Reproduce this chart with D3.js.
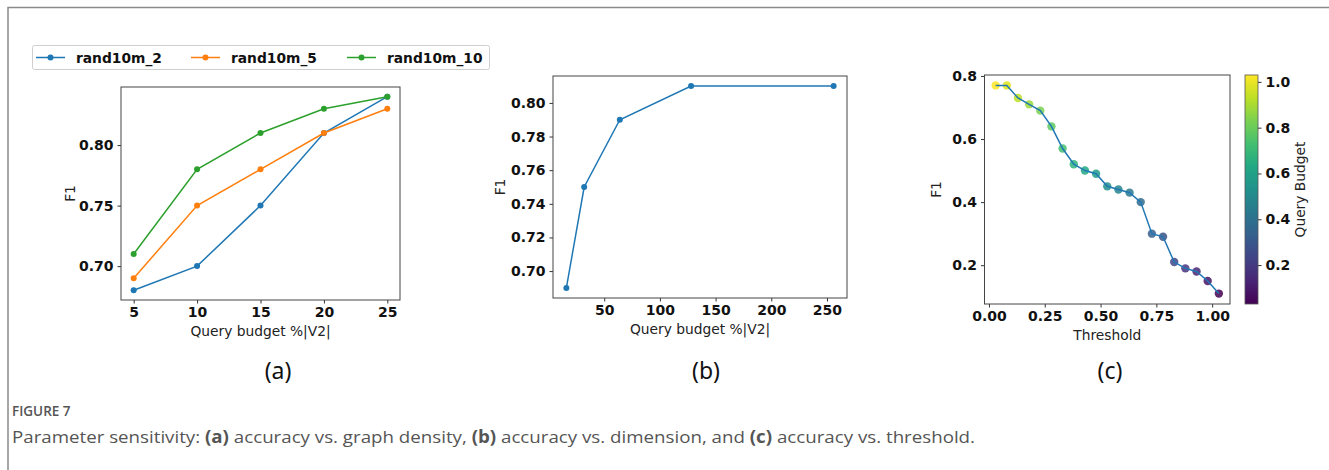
<!DOCTYPE html>
<html>
<head>
<meta charset="utf-8">
<script src="https://cdn.jsdelivr.net/npm/d3@7"></script>
<style>
  body { margin: 0; background: #fff; }
  svg text { font-family: "DejaVu Sans", sans-serif; }
  .tick text { font-weight: bold; font-size: 14px; fill: #111; }
  .axislabel { font-size: 13.8px; fill: #222; }
  .panellabel { font-family: "Noto Sans", sans-serif !important; font-size: 23px; fill: #111; }
  .caption { font-family: "Open Sans", sans-serif !important; fill: #555; }
</style>
</head>
<body>
<div id="chart"></div>
<script>
// panel (a): query budget vs F1 for three graphs
const budgetsA = [5, 10, 15, 20, 25];
const seriesNames = ['rand10m_2', 'rand10m_5', 'rand10m_10'];
const f1Rand2  = [0.68, 0.70, 0.75, 0.81, 0.84];
const f1Rand5  = [0.69, 0.75, 0.78, 0.81, 0.83];
const f1Rand10 = [0.71, 0.78, 0.81, 0.83, 0.84];
const seriesColors = ['#1f77b4', '#ff7f0e', '#2ca02c'];

// panel (b): dimension
const budgetsB = [16, 32, 64, 128, 256];
const f1B = [0.69, 0.75, 0.79, 0.81, 0.81];

// panel (c): threshold, coloured by query budget
const thresholds = [0.03, 0.08, 0.13, 0.18, 0.23, 0.28, 0.33, 0.38, 0.43, 0.48, 0.53,
                    0.58, 0.63, 0.68, 0.73, 0.78, 0.83, 0.88, 0.93, 0.98, 1.03];
const f1C = [0.77, 0.77, 0.73, 0.71, 0.69, 0.64, 0.57, 0.52, 0.50, 0.49, 0.45,
             0.44, 0.43, 0.40, 0.30, 0.29, 0.21, 0.19, 0.18, 0.15, 0.11];
const queryBudget = [1.03, 0.98, 0.93, 0.88, 0.83, 0.78, 0.73, 0.68, 0.63, 0.58, 0.53,
                     0.48, 0.43, 0.38, 0.33, 0.28, 0.23, 0.18, 0.13, 0.08, 0.03];

const ticksAx = [5, 10, 15, 20, 25], ticksAy = [0.70, 0.75, 0.80];
const ticksBx = [50, 100, 150, 200, 250], ticksBy = [0.70, 0.72, 0.74, 0.76, 0.78, 0.80];
const ticksCx = [0, 0.25, 0.5, 0.75, 1.0], ticksCy = [0.2, 0.4, 0.6, 0.8];
const ticksBar = [0.2, 0.4, 0.6, 0.8, 1.0];

const width = 1329, height = 470;

let svg = d3.select('#chart').append('svg')
  .attr('width', width)
  .attr('height', height);

// frame of the figure
svg.append('path')
  .attr('d', `M 8 ${height} L 8 7.5 L ${width} 7.5`)
  .attr('fill', 'none')
  .attr('stroke', '#8a8a8a')
  .attr('stroke-width', 1.5);

// matplotlib style 5% padding
function padded(vals) {
  let lo = d3.min(vals), hi = d3.max(vals), m = (hi - lo) * 0.05;
  return [lo - m, hi + m];
}

function drawAxes(box, x, y, xt, yt, xf, yf, xlabel, ylabelX) {
  let g = svg.append('g');
  g.append('g')
    .attr('transform', `translate(0,${box.bottom})`)
    .call(d3.axisBottom(x).tickValues(xt).tickFormat(xf).tickSize(3.5).tickPadding(4).tickSizeOuter(0));
  g.append('g')
    .attr('transform', `translate(${box.left},0)`)
    .call(d3.axisLeft(y).tickValues(yt).tickFormat(yf).tickSize(3.5).tickPadding(4).tickSizeOuter(0));
  g.selectAll('.domain').remove();
  g.selectAll('.tick line').attr('stroke', '#333');
  g.selectAll('.tick text').attr('font-family', null);
  g.append('rect')
    .attr('x', box.left).attr('y', box.top)
    .attr('width', box.right - box.left).attr('height', box.bottom - box.top)
    .attr('fill', 'none').attr('stroke', '#444').attr('stroke-width', 1);
  g.append('text')
    .attr('class', 'axislabel')
    .attr('text-anchor', 'middle')
    .attr('x', (box.left + box.right) / 2)
    .attr('y', box.bottom + 36)
    .text(xlabel);
  g.append('text')
    .attr('class', 'axislabel')
    .attr('text-anchor', 'middle')
    .attr('transform', `translate(${ylabelX},${(box.top + box.bottom) / 2}) rotate(-90)`)
    .text('F1');
  return g;
}

// ---- panel (a)
const boxA = {left: 121, right: 400, top: 87, bottom: 300};
let xA = d3.scaleLinear().domain(padded(budgetsA)).range([boxA.left, boxA.right]);
let yA = d3.scaleLinear().domain(padded(f1Rand2.concat(f1Rand5, f1Rand10))).range([boxA.bottom, boxA.top]);
drawAxes(boxA, xA, yA, ticksAx, ticksAy, d3.format('d'), d3.format('.2f'), 'Query budget %|V2|', 75);

let seriesA = [f1Rand2, f1Rand5, f1Rand10];
let lineA = d3.line().x((d, i) => xA(budgetsA[i])).y(d => yA(d));
seriesA.forEach((vals, k) => {
  svg.append('path')
    .datum(vals)
    .attr('d', lineA)
    .attr('fill', 'none')
    .attr('stroke', seriesColors[k])
    .attr('stroke-width', 1.5);
  svg.append('g').selectAll('circle')
    .data(vals)
    .enter().append('circle')
    .attr('cx', (d, i) => xA(budgetsA[i]))
    .attr('cy', d => yA(d))
    .attr('r', 3)
    .attr('fill', seriesColors[k]);
});

// legend
let legend = svg.append('g');
legend.append('rect')
  .attr('x', 32.5).attr('y', 45.5).attr('width', 457).attr('height', 24)
  .attr('rx', 2)
  .attr('fill', '#fff').attr('stroke', '#cfcfcf');
let legendX = [36, 191, 347];
seriesNames.forEach((name, k) => {
  legend.append('line')
    .attr('x1', legendX[k]).attr('x2', legendX[k] + 29)
    .attr('y1', 57.5).attr('y2', 57.5)
    .attr('stroke', seriesColors[k]).attr('stroke-width', 1.5);
  legend.append('circle')
    .attr('cx', legendX[k] + 14.5).attr('cy', 57.5).attr('r', 3)
    .attr('fill', seriesColors[k]);
  legend.append('text')
    .attr('x', legendX[k] + 40).attr('y', 62.5)
    .attr('font-weight', 'bold').attr('font-size', 13.8).attr('fill', '#111')
    .text(name);
});

// ---- panel (b)
const boxB = {left: 553, right: 847, top: 76, bottom: 298};
let xB = d3.scaleLinear().domain(padded(budgetsB)).range([boxB.left, boxB.right]);
let yB = d3.scaleLinear().domain(padded(f1B)).range([boxB.bottom, boxB.top]);
drawAxes(boxB, xB, yB, ticksBx, ticksBy, d3.format('d'), d3.format('.2f'), 'Query budget %|V2|', 505);

svg.append('path')
  .datum(f1B)
  .attr('d', d3.line().x((d, i) => xB(budgetsB[i])).y(d => yB(d)))
  .attr('fill', 'none')
  .attr('stroke', seriesColors[0])
  .attr('stroke-width', 1.5);
svg.append('g').selectAll('circle')
  .data(f1B)
  .enter().append('circle')
  .attr('cx', (d, i) => xB(budgetsB[i]))
  .attr('cy', d => yB(d))
  .attr('r', 3)
  .attr('fill', seriesColors[0]);

// ---- panel (c)
const boxC = {left: 984.5, right: 1230, top: 75, bottom: 304};
let xC = d3.scaleLinear().domain(padded(thresholds)).range([boxC.left, boxC.right]);
let yC = d3.scaleLinear().domain(padded(f1C)).range([boxC.bottom, boxC.top]);
drawAxes(boxC, xC, yC, ticksCx, ticksCy, d3.format('.2f'), d3.format('.1f'), 'Threshold', 941);

let colorC = d3.scaleSequential(d3.interpolateViridis).domain(d3.extent(queryBudget));

svg.append('g').selectAll('circle')
  .data(f1C)
  .enter().append('circle')
  .attr('cx', (d, i) => xC(thresholds[i]))
  .attr('cy', d => yC(d))
  .attr('r', 4.2)
  .attr('fill', (d, i) => colorC(queryBudget[i]))
  .attr('fill-opacity', 0.85);
svg.append('path')
  .datum(f1C)
  .attr('d', d3.line().x((d, i) => xC(thresholds[i])).y(d => yC(d)))
  .attr('fill', 'none')
  .attr('stroke', seriesColors[0])
  .attr('stroke-width', 1.5);

// colorbar
const bar = {left: 1245, right: 1258, top: 75, bottom: 304};
let yBar = d3.scaleLinear().domain(colorC.domain()).range([bar.bottom, bar.top]);
let grad = svg.append('defs').append('linearGradient')
  .attr('id', 'viridisbar')
  .attr('x1', 0).attr('x2', 0).attr('y1', 1).attr('y2', 0);
d3.range(0, 1.0001, 0.1).forEach(t => {
  grad.append('stop').attr('offset', t).attr('stop-color', d3.interpolateViridis(t));
});
svg.append('rect')
  .attr('x', bar.left).attr('y', bar.top)
  .attr('width', bar.right - bar.left).attr('height', bar.bottom - bar.top)
  .attr('fill', 'url(#viridisbar)')
  .attr('stroke', '#555').attr('stroke-width', 0.8);
let barAxis = svg.append('g')
  .attr('transform', `translate(${bar.right},0)`)
  .call(d3.axisRight(yBar).tickValues(ticksBar).tickFormat(d3.format('.1f')).tickSize(3.5).tickPadding(4));
barAxis.select('.domain').remove();
barAxis.selectAll('.tick text').attr('font-family', null);
barAxis.selectAll('.tick line').attr('stroke', '#333');
svg.append('text')
  .attr('class', 'axislabel')
  .attr('text-anchor', 'middle')
  .attr('transform', `translate(1305,${(bar.top + bar.bottom) / 2}) rotate(-90)`)
  .text('Query Budget');

// panel letters
const panelLabels = ['(a)', '(b)', '(c)'];
const panelX = [278, 706, 1110];
panelLabels.forEach((t, i) => {
  svg.append('text')
    .attr('class', 'panellabel')
    .attr('text-anchor', 'middle')
    .attr('x', panelX[i]).attr('y', 379)
    .text(t);
});

// caption
svg.append('text')
  .attr('class', 'caption')
  .attr('x', 12).attr('y', 416)
  .attr('font-size', 13.5).attr('font-weight', 600)
  .attr('fill', '#777')
  .text('FIGURE 7');
let cap = svg.append('text')
  .attr('class', 'caption')
  .attr('x', 12).attr('y', 443)
  .attr('font-size', 17)
  .attr('textLength', 963)
  .attr('lengthAdjust', 'spacingAndGlyphs');
const capParts = [['Parameter sensitivity: ', false], ['(a)', true], [' accuracy vs. graph density, ', false],
  ['(b)', true], [' accuracy vs. dimension, and ', false], ['(c)', true], [' accuracy vs. threshold.', false]];
capParts.forEach(p => {
  cap.append('tspan').attr('font-weight', p[1] ? 'bold' : 'normal').text(p[0]);
});
</script>
</body>
</html>
